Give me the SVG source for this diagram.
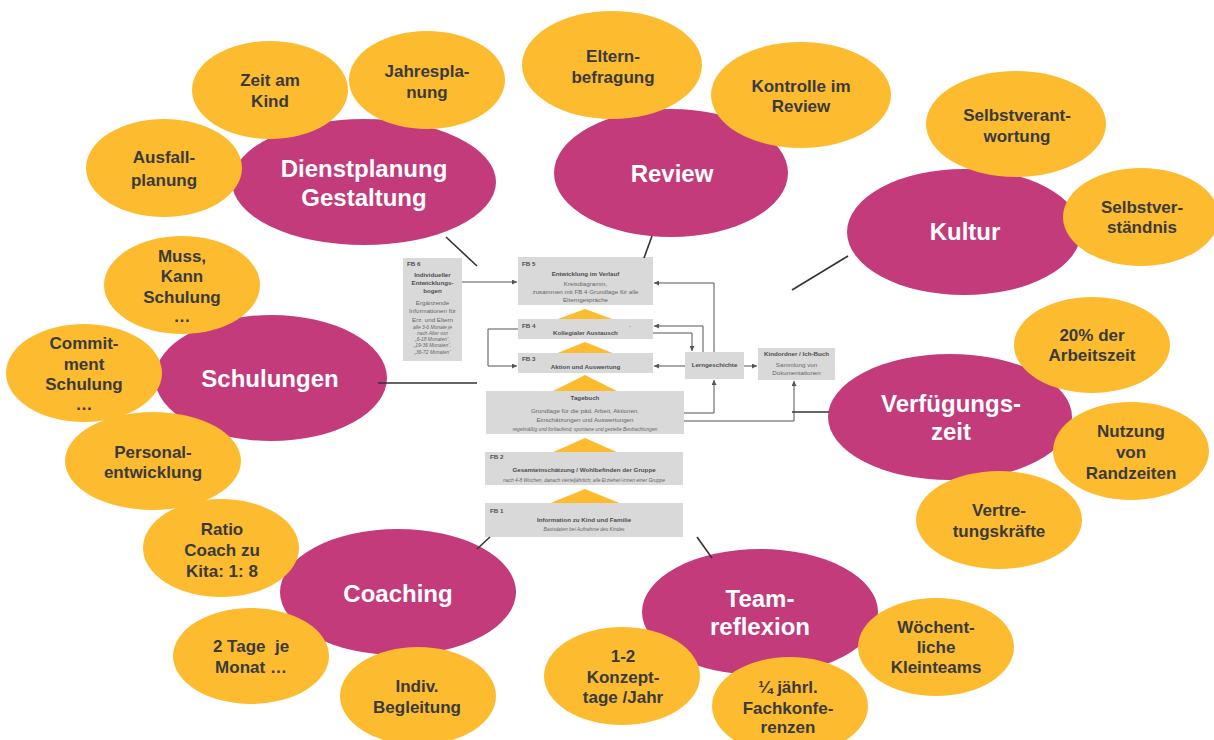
<svg xmlns="http://www.w3.org/2000/svg" width="1214" height="740" viewBox="0 0 1214 740">
<defs>
<style>
.mag{fill:#C33B7B}
.org{fill:#FDBB30}
.tri{fill:#FDBB30}
.box{fill:#D9D9D9}
.mt{font-family:"Liberation Sans",Arial,sans-serif;font-weight:bold;font-size:24px;fill:#FFFFFF;text-anchor:middle}
.ot{font-family:"Liberation Sans",Arial,sans-serif;font-weight:bold;font-size:17px;fill:#3A3A3A;text-anchor:middle}
.fb{font-family:"Liberation Sans",Arial,sans-serif;font-weight:bold;font-size:6.2px;fill:#4D4D4D}
.bt{font-family:"Liberation Sans",Arial,sans-serif;font-weight:bold;font-size:6.2px;fill:#4D4D4D;text-anchor:middle}
.rt{font-family:"Liberation Sans",Arial,sans-serif;font-size:6.2px;fill:#666666;text-anchor:middle}
.it{font-family:"Liberation Sans",Arial,sans-serif;font-style:italic;font-size:4.9px;fill:#666666;text-anchor:middle}
.ln{stroke:#333333;stroke-width:1.6;fill:none}
.ar{stroke:#555555;stroke-width:1;fill:none;marker-end:url(#ah)}
</style>
<marker id="ah" viewBox="0 0 6 6" refX="6" refY="3" markerWidth="5" markerHeight="5" markerUnits="userSpaceOnUse" orient="auto"><path d="M0,0 L6,3 L0,6 z" fill="#555555"/></marker>
</defs>
<rect width="1214" height="740" fill="#FFFFFF"/>

<g id="n-dienstplanung"><ellipse class="mag" cx="364" cy="182" rx="132" ry="63"/><text class="mt" x="364" y="177">Dienstplanung</text><text class="mt" x="364" y="206">Gestaltung</text></g>
<g id="n-review"><ellipse class="mag" cx="671" cy="173" rx="117" ry="64"/><text class="mt" x="672" y="182">Review</text></g>
<g id="n-kultur"><ellipse class="mag" cx="964" cy="232" rx="117" ry="63"/><text class="mt" x="965" y="240">Kultur</text></g>
<g id="n-schulungen"><ellipse class="mag" cx="271" cy="378" rx="116" ry="63"/><text class="mt" x="270" y="387">Schulungen</text></g>
<g id="n-verfuegungszeit"><ellipse class="mag" cx="950" cy="417" rx="122" ry="63"/><text class="mt" x="951" y="412">Verfügungs-</text><text class="mt" x="951" y="440">zeit</text></g>
<g id="n-coaching"><ellipse class="mag" cx="398" cy="592" rx="118" ry="63"/><text class="mt" x="398" y="602">Coaching</text></g>
<g id="n-teamreflexion"><ellipse class="mag" cx="760" cy="612" rx="118" ry="63"/><text class="mt" x="760" y="607">Team-</text><text class="mt" x="760" y="635">reflexion</text></g>

<g id="n-zeitamkind"><ellipse class="org" cx="270" cy="90" rx="78" ry="49"/><text class="ot" x="270" y="86">Zeit am</text><text class="ot" x="270" y="107">Kind</text></g>
<g id="n-jahresplanung"><ellipse class="org" cx="427" cy="80" rx="78" ry="49"/><text class="ot" x="427" y="77">Jahrespla-</text><text class="ot" x="427" y="98">nung</text></g>
<g id="n-ausfallplanung"><ellipse class="org" cx="164" cy="168" rx="78" ry="49"/><text class="ot" x="164" y="163">Ausfall-</text><text class="ot" x="164" y="186">planung</text></g>
<g id="n-elternbefragung"><ellipse class="org" cx="612" cy="65" rx="90" ry="54"/><text class="ot" x="613" y="62">Eltern-</text><text class="ot" x="613" y="83">befragung</text></g>
<g id="n-kontrolle"><ellipse class="org" cx="801" cy="95" rx="90" ry="53"/><text class="ot" x="801" y="92">Kontrolle im</text><text class="ot" x="801" y="112">Review</text></g>
<g id="n-selbstverantwortung"><ellipse class="org" cx="1016" cy="124" rx="90" ry="53"/><text class="ot" x="1017" y="121">Selbstverant-</text><text class="ot" x="1017" y="142">wortung</text></g>
<g id="n-selbstverstaendnis"><ellipse class="org" cx="1141" cy="217" rx="78" ry="49"/><text class="ot" x="1142" y="213">Selbstver-</text><text class="ot" x="1142" y="233">ständnis</text></g>
<g id="n-muss"><ellipse class="org" cx="182" cy="285" rx="78" ry="49"/><text class="ot" x="182" y="262">Muss,</text><text class="ot" x="182" y="282">Kann</text><text class="ot" x="182" y="303">Schulung</text><text class="ot" x="182" y="322">…</text></g>
<g id="n-commitment"><ellipse class="org" cx="84" cy="373" rx="78" ry="49"/><text class="ot" x="84" y="349">Commit-</text><text class="ot" x="84" y="370">ment</text><text class="ot" x="84" y="390">Schulung</text><text class="ot" x="84" y="410">…</text></g>
<g id="n-personalentwicklung"><ellipse class="org" cx="153" cy="461" rx="88" ry="49"/><text class="ot" x="153" y="458">Personal-</text><text class="ot" x="153" y="478">entwicklung</text></g>
<g id="n-ratio"><ellipse class="org" cx="221" cy="548" rx="78" ry="49"/><text class="ot" x="222" y="535">Ratio</text><text class="ot" x="222" y="556">Coach zu</text><text class="ot" x="222" y="577">Kita: 1: 8</text></g>
<g id="n-zweitage"><ellipse class="org" cx="251" cy="656" rx="78" ry="48"/><text class="ot" x="251" y="652">2 Tage&#160; je</text><text class="ot" x="251" y="673">Monat …</text></g>
<g id="n-indiv"><ellipse class="org" cx="418" cy="696" rx="78" ry="49"/><text class="ot" x="417" y="692">Indiv.</text><text class="ot" x="417" y="713">Begleitung</text></g>
<g id="n-konzepttage"><ellipse class="org" cx="622" cy="676" rx="78" ry="49"/><text class="ot" x="623" y="662">1-2</text><text class="ot" x="623" y="683">Konzept-</text><text class="ot" x="623" y="703">tage /Jahr</text></g>
<g id="n-fachkonferenzen"><ellipse class="org" cx="790" cy="706" rx="78" ry="49"/><text class="ot" x="788" y="693">¼ jährl.</text><text class="ot" x="788" y="714">Fachkonfe-</text><text class="ot" x="788" y="733">renzen</text></g>
<g id="n-kleinteams"><ellipse class="org" cx="936" cy="647" rx="78" ry="49"/><text class="ot" x="936" y="633">Wöchent-</text><text class="ot" x="936" y="653">liche</text><text class="ot" x="936" y="673">Kleinteams</text></g>
<g id="n-arbeitszeit"><ellipse class="org" cx="1092" cy="345" rx="78" ry="48"/><text class="ot" x="1092" y="341">20% der</text><text class="ot" x="1092" y="361">Arbeitszeit</text></g>
<g id="n-randzeiten"><ellipse class="org" cx="1131" cy="451" rx="78" ry="49"/><text class="ot" x="1131" y="437">Nutzung</text><text class="ot" x="1131" y="458">von</text><text class="ot" x="1131" y="479">Randzeiten</text></g>
<g id="n-vertretung"><ellipse class="org" cx="999" cy="520" rx="83" ry="49"/><text class="ot" x="999" y="516">Vertre-</text><text class="ot" x="999" y="537">tungskräfte</text></g>

<g id="steps">
<polygon class="tri" points="585,309 555,320 615,320"/>
<polygon class="tri" points="585,342 555,354 615,354"/>
<polygon class="tri" points="585,375 551,392 619,392"/>
<polygon class="tri" points="585,438 551,453 619,453"/>
<polygon class="tri" points="585,489 548,504 622,504"/>
</g>

<g id="n-fb6"><rect class="box" x="403" y="258" width="59" height="103"/>
<text class="fb" x="407" y="266">FB 6</text>
<text class="bt" x="432.5" y="277" font-size="6.6">Individueller</text>
<text class="bt" x="432.5" y="285" font-size="6.6">Entwicklungs-</text>
<text class="bt" x="432.5" y="293" font-size="6.6">bogen</text>
<text class="rt" x="432.5" y="305" font-size="7">Ergänzende</text>
<text class="rt" x="432.5" y="313" font-size="7">Informationen für</text>
<text class="rt" x="432.5" y="322" font-size="7">Erz. und Eltern</text>
<text class="it" x="432.5" y="329">alle 3-6 Monate je</text>
<text class="it" x="432.5" y="335">nach Alter von</text>
<text class="it" x="432.5" y="341">„6-18 Monaten“,</text>
<text class="it" x="432.5" y="347">„19-36 Monaten“,</text>
<text class="it" x="432.5" y="354">„36-72 Monaten“</text>
</g>
<g id="n-fb5"><rect class="box" x="518" y="257" width="135" height="48"/>
<text class="fb" x="522" y="266">FB 5</text>
<text class="bt" x="585.5" y="276">Entwicklung im Verlauf</text>
<text class="rt" x="585.5" y="286">Kreisdiagramm,</text>
<text class="rt" x="585.5" y="294">zusammen mit FB 4 Grundlage für alle</text>
<text class="rt" x="585.5" y="302">Elterngespräche</text>
</g>
<g id="n-fb4"><rect class="box" x="518" y="319" width="135" height="20"/>
<text class="fb" x="522" y="328">FB 4</text>
<text class="bt" x="585.5" y="335">Kollegialer Austausch</text>
<text class="rt" x="630" y="330">'</text>
</g>
<g id="n-fb3"><rect class="box" x="518" y="353" width="135" height="20"/>
<text class="fb" x="522" y="361">FB 3</text>
<text class="bt" x="585.5" y="369">Aktion und Auswertung</text>
</g>
<g id="n-tagebuch"><rect class="box" x="486" y="391" width="198" height="43"/>
<text class="bt" x="585" y="400">Tagebuch</text>
<text class="rt" x="585" y="413">Grundlage für die päd. Arbeit, Aktionen,</text>
<text class="rt" x="585" y="422">Einschätzungen und Auswertungen</text>
<text class="it" x="585" y="431">regelmäßig und fortlaufend; spontane und gezielte Beobachtungen</text>
</g>
<g id="n-fb2"><rect class="box" x="485" y="452" width="198" height="33"/>
<text class="fb" x="490" y="459">FB 2</text>
<text class="bt" x="584" y="472">Gesamteinschätzung / Wohlbefinden der Gruppe</text>
<text class="it" x="584" y="482">nach 4-8 Wochen, danach vierteljährlich; alle Erzieher/-innen einer Gruppe</text>
</g>
<g id="n-fb1"><rect class="box" x="485" y="503" width="198" height="34"/>
<text class="fb" x="490" y="513">FB 1</text>
<text class="bt" x="584" y="522">Information zu Kind und Familie</text>
<text class="it" x="584" y="531">Basisdaten bei Aufnahme des Kindes</text>
</g>
<g id="n-lerngeschichte"><rect class="box" x="685" y="352" width="59" height="27"/>
<text class="bt" x="714.5" y="367">Lerngeschichte</text>
</g>
<g id="n-kindordner"><rect class="box" x="758" y="348" width="77" height="32"/>
<text class="bt" x="796.5" y="356">Kindordner / Ich-Buch</text>
<text class="rt" x="796.5" y="367">Sammlung von</text>
<text class="rt" x="796.5" y="375">Dokumentationen</text>
</g>

<g id="connectors">
<path class="ln" d="M446,237 L477,266"/>
<path class="ln" d="M652,236 L644,258"/>
<path class="ln" d="M848,256 L792,290"/>
<path class="ln" d="M378,383 L477,383"/>
<path class="ln" d="M792,412 L829,412"/>
<path class="ln" d="M477,549 L490,537"/>
<path class="ln" d="M697,537 L712,558"/>
<path class="ar" d="M462,282 H517"/>
<path class="ar" d="M714,352 V283 H654"/>
<path class="ar" d="M703,352 V326 H654"/>
<path class="ar" d="M653,333 H692 V351"/>
<path class="ar" d="M685,366 H654"/>
<path class="ar" d="M744,366 H757"/>
<path class="ar" d="M518,329 H488 V366 H517"/>
<path class="ar" d="M684,413 H714 V380"/>
<path class="ar" d="M684,421 H794 V381"/>
</g>
</svg>
